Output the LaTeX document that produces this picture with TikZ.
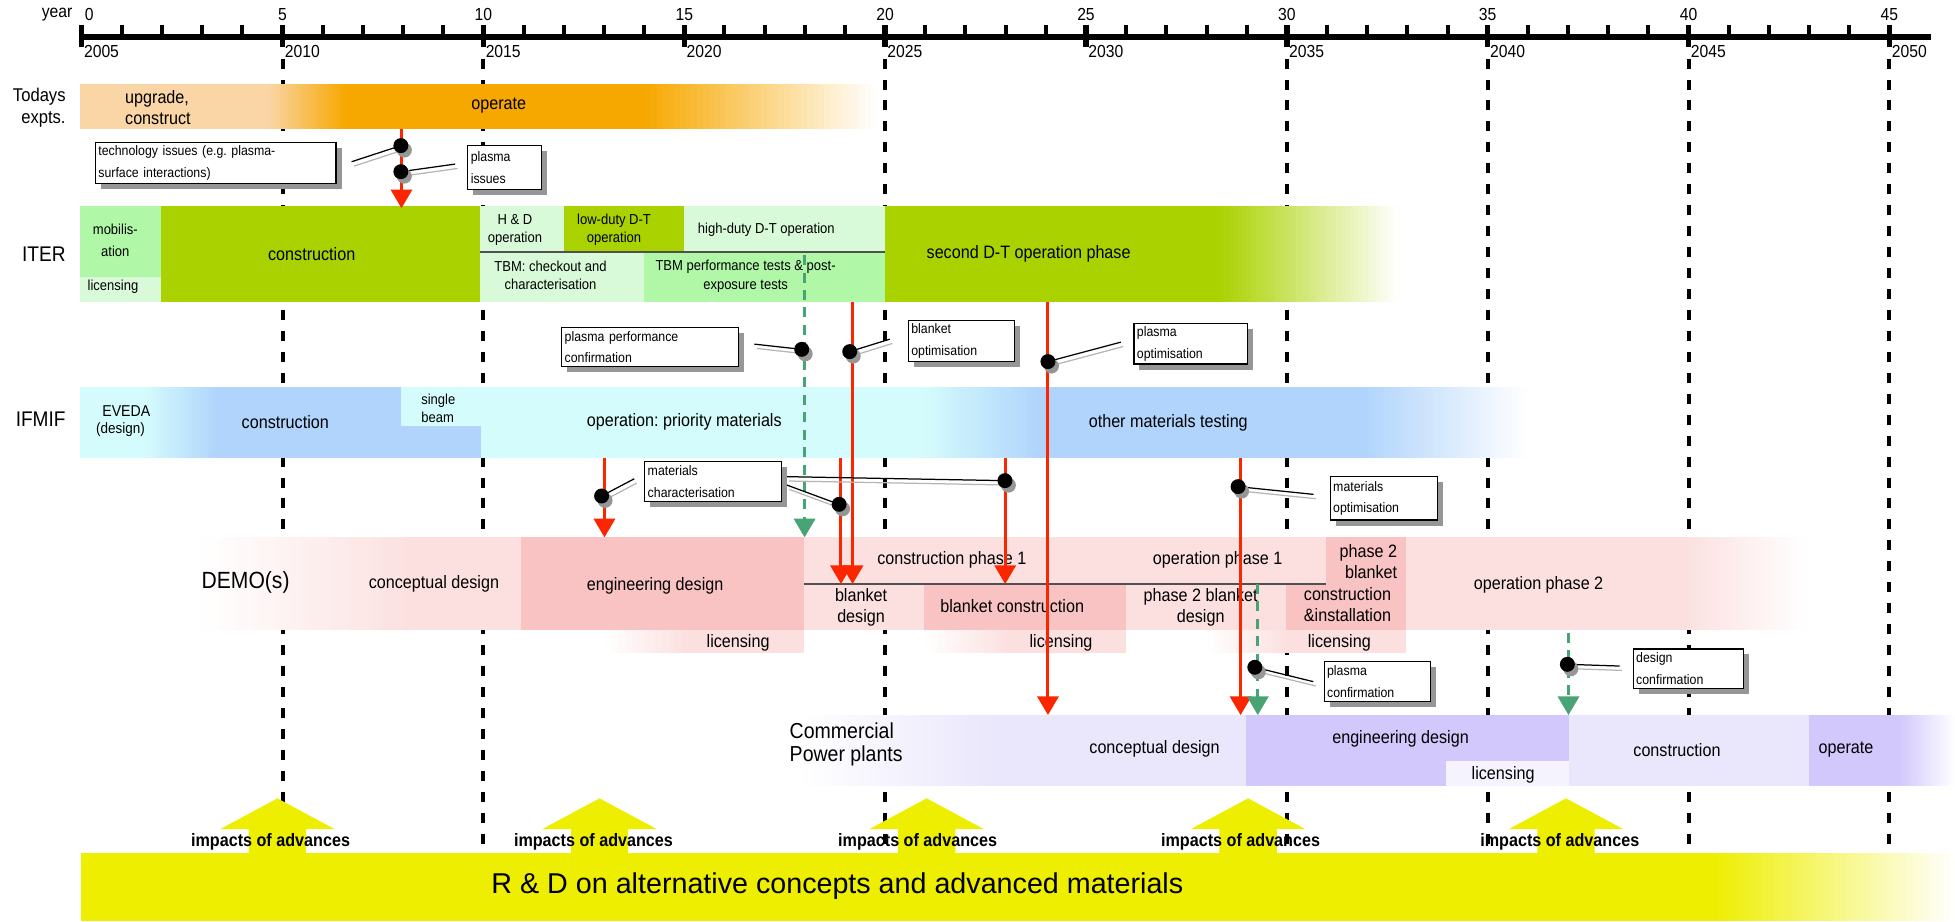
\documentclass[tikz,border=0pt]{standalone}
\usepackage{fontspec}
\setmainfont{Liberation Sans}[FakeStretch=0.9]
\newfontfamily\plainsans{Liberation Sans}
\usetikzlibrary{shapes, arrows.meta, shadows}
\frenchspacing

\definecolor{redc}{RGB}{250,38,0}
\definecolor{greenc}{RGB}{72,163,117}
\definecolor{peach}{RGB}{250,213,166}
\definecolor{orangec}{RGB}{247,168,0}
\definecolor{olive}{RGB}{170,210,0}
\definecolor{mintc}{RGB}{176,248,168}
\definecolor{palemint}{RGB}{216,250,216}
\definecolor{cyanc}{RGB}{213,252,252}
\definecolor{bluec}{RGB}{176,212,252}
\definecolor{palepink}{RGB}{252,224,224}
\definecolor{pinkc}{RGB}{250,195,195}
\definecolor{palelav}{RGB}{234,230,252}
\definecolor{lavc}{RGB}{210,200,252}
\definecolor{whitelav}{RGB}{245,243,254}
\definecolor{yellowc}{RGB}{238,238,0}
\definecolor{shadowgrey}{RGB}{150,150,150}
\definecolor{splitgrey}{RGB}{80,80,80}

\newcommand{\ftnote}{\fontsize{5.5}{8.7}\selectfont}
\newcommand{\ftiter}{\fontsize{5.8}{7.3}\selectfont}
\newcommand{\ftbar}{\fontsize{7.2}{8.5}\selectfont}
\newcommand{\ftrow}{\fontsize{8.5}{9}\selectfont}
\newcommand{\ftaxis}{\fontsize{7}{8}\selectfont}
\newcommand{\ftimp}{\fontsize{7.2}{8}\selectfont\bfseries}
\newcommand{\ftband}{\plainsans\fontsize{11.5}{12}\selectfont}

% horizontal fade: x1, x2, y1, y2, from colour, to colour
\newcommand{\hfade}[6]{%
  \foreach \k in {0,...,39}{
    \pgfmathsetmacro{\pp}{100*(\k+0.5)/40}
    \fill[#6!\pp!#5] ({#1+(#2-#1)*\k/40},#3) rectangle ({#1+(#2-#1)*(\k+1)/40+0.4},#4);
  }}

\pgfdeclarelayer{front}
\pgfsetlayers{main,front}

\tikzstyle{lbl} = [inner sep=0pt, align=center, font=\ftbar]
\tikzstyle{rowlbl} = [inner sep=0pt, anchor=east, align=right, font=\ftrow]
\tikzstyle{notebox} = [rectangle, draw=black, line width=0.5pt, fill=white, anchor=north west, align=left, inner sep=1.2pt, font=\ftnote, drop shadow={shadow xshift=2.2pt, shadow yshift=-2.2pt, fill=shadowgrey, opacity=1}]
\tikzstyle{bead} = [circle, fill=black, inner sep=0pt, minimum size=6pt, drop shadow={shadow xshift=1.4pt, shadow yshift=-1.8pt, fill=shadowgrey, opacity=1}]
\tikzstyle{leadline} = [draw=black, line width=0.5pt]
\tikzstyle{leadshade} = [draw=shadowgrey!70, line width=0.5pt]
\tikzstyle{redline} = [draw=redc, line width=1.2pt, -{Triangle[length=7.5pt, width=8.5pt]}]
\tikzstyle{greenline} = [draw=greenc, line width=1.2pt, dash pattern=on 4pt off 3pt, -{Triangle[length=7.5pt, width=8.5pt]}]
\tikzstyle{gridline} = [draw=black, line width=1.6pt, dash pattern=on 4pt off 4.4pt]
\tikzstyle{divider} = [draw=splitgrey, line width=0.8pt]

\begin{document}
\begin{tikzpicture}[x=0.5pt, y=-0.5pt]
\useasboundingbox (0,0) rectangle (1568,739);

% time axis
\node[font=\ftaxis, inner sep=0pt] (yr) at (45.8,12) {year};
\node[font=\ftaxis, inner sep=0pt] (t0) at (71.6,12) {0};
\foreach \t in {5,10,...,45}
  \node[font=\ftaxis, inner sep=0pt] (t\t) at (65.5+32.22*\t,12) {\t};
\draw[line width=2.25pt] (63,29.5) -- (1549,29.5);
\foreach \t in {0,...,45}
  \draw[line width=1.6pt] (65.5+32.22*\t,20) -- (65.5+32.22*\t,29.5);
\foreach \t in {0,5,...,45}{
  \draw[line width=2.2pt] (65.5+32.22*\t,20) -- (65.5+32.22*\t,37.5);
  \pgfmathtruncatemacro{\yy}{2005+\t}
  \node[font=\ftaxis, inner sep=0pt, anchor=west] (y\t) at (67+32.22*\t,41.5) {\yy};
}
\foreach \t in {5,10,20,30,35,40,45}
  \draw[gridline] (65.5+32.22*\t,47) -- (65.5+32.22*\t,684);

% todays experiments
\fill[peach] (64.5,67) rectangle (215,103.7);
\hfade{215}{277.5}{67}{103.7}{peach}{orangec}
\fill[orangec] (277.5,67) rectangle (517.4,103.7);
\hfade{517.4}{703}{67}{103.7}{orangec}{white}
\node[rowlbl, font=\fontsize{7.4}{8.75}\selectfont] (todays) at (53,86.3) {Todays\\expts.};
\node[lbl, anchor=west, align=left, font=\fontsize{7.2}{8.75}\selectfont] (upg) at (100,86.3) {upgrade,\\construct};
\node[lbl] (operate) at (400,85) {operate};

% ITER
\fill[mintc] (64.5,165) rectangle (129,222);
\fill[palemint] (64.5,222) rectangle (129,242);
\fill[olive] (129,165) rectangle (385,242);
\fill[palemint] (385,165) rectangle (452,202);
\fill[olive] (452,165) rectangle (548.7,202);
\fill[palemint] (548.7,165) rectangle (709.6,202);
\fill[palemint] (385,202) rectangle (516.5,242);
\fill[mintc] (516.5,202) rectangle (709.6,242);
\fill[olive] (709.6,165) rectangle (978.5,242);
\hfade{978.5}{1122}{165}{242}{olive}{white}
\draw[divider] (385,202) -- (709.6,202);
\node[rowlbl] (iter) at (53,203.7) {ITER};
\node[lbl, font=\fontsize{5.8}{8.75}\selectfont] (mobil) at (92.5,193) {mobilis-\\ation};
\node[lbl, font=\ftiter] (iterlic) at (90.6,230) {licensing};
\node[lbl] (iterconstr) at (250,203.7) {construction};
\node[lbl, font=\ftiter] (hd) at (413,184.4) {H \& D\\operation};
\node[lbl, font=\ftiter] (lowdt) at (492.5,184.4) {low-duty D-T\\operation};
\node[lbl, font=\ftiter] (highdt) at (614.6,184.5) {high-duty D-T operation};
\node[lbl, font=\ftiter] (tbmcheck) at (441.5,221) {TBM: checkout and\\characterisation};
\node[lbl, font=\ftiter] (tbmperf) at (598,221.5) {TBM performance tests \& post-\\exposure tests};
\node[lbl] (seconddt) at (825,203.7) {second D-T operation phase};

% IFMIF
\fill[cyanc] (64.5,310) rectangle (115,367);
\hfade{115}{175}{310}{367}{cyanc}{bluec}
\fill[bluec] (175,310) rectangle (386,367);
\fill[cyanc] (321.4,310) rectangle (386,342);
\fill[cyanc] (386,310) rectangle (740,367);
\hfade{740}{835}{310}{367}{cyanc}{bluec}
\fill[bluec] (835,310) rectangle (1093.7,367);
\hfade{1093.7}{1225.5}{310}{367}{bluec}{white}
\node[rowlbl] (ifmif) at (53,336) {IFMIF};
\node[lbl, font=\fontsize{6.3}{7}\selectfont] (eveda) at (101.3,329.6) {EVEDA};
\node[lbl, font=\fontsize{6}{7}\selectfont] (evedades) at (96.7,344.3) {(design)};
\node[lbl] (ifmifconstr) at (228.8,338.7) {construction};
\node[lbl, anchor=west, align=left, font=\fontsize{5.8}{7.2}\selectfont] (single) at (337.5,327.5) {single\\beam};
\node[lbl] (priority) at (548.8,338.7) {operation: priority materials};
\node[lbl] (othermat) at (937,339) {other materials testing};

% DEMO
\hfade{160}{330}{431}{505}{white}{palepink}
\fill[palepink] (330,431) rectangle (417.6,505);
\fill[pinkc] (417.6,431) rectangle (645,505);
\fill[palepink] (645,431) rectangle (1063.6,468.4);
\fill[palepink] (645,468.4) rectangle (741.3,505);
\fill[pinkc] (741.3,468.4) rectangle (903,505);
\fill[palepink] (903,468.4) rectangle (1031.5,505);
\fill[pinkc] (1063.6,431) rectangle (1127.4,468.4);
\fill[pinkc] (1031.5,468.4) rectangle (1127.4,505);
\fill[palepink] (1127.4,431) rectangle (1350.6,505);
\hfade{1350.6}{1449}{431}{505}{palepink}{white}
\hfade{485}{549}{505}{524}{white}{palepink}
\fill[palepink] (549,505) rectangle (645,524);
\hfade{741.3}{809}{505}{524}{white}{palepink}
\fill[palepink] (809,505) rectangle (903,524);
\hfade{968}{1031.5}{505}{524}{white}{palepink}
\fill[palepink] (1031.5,505) rectangle (1127.4,524);
\draw[divider] (645,468.4) -- (1063.6,468.4);
\node[lbl, font=\fontsize{9.4}{10}\selectfont] (demo) at (197,467) {DEMO(s)};
\node[lbl] (democoncept) at (348,468) {conceptual design};
\node[lbl] (demoeng) at (525.4,469.7) {engineering design};
\node[lbl] (constr1) at (763.4,449) {construction phase 1};
\node[lbl] (blkdes) at (690.6,487) {blanket\\design};
\node[lbl] (blkconstr) at (811.8,485.8) {blanket construction};
\node[lbl] (oper1) at (976.6,449) {operation phase 1};
\node[lbl] (blkdes2) at (963,487) {phase 2 blanket\\design};
\node[lbl, anchor=east, align=right] (blk2) at (1121,450.6) {phase 2\\blanket};
\node[lbl, anchor=west, align=left] (install2) at (1045.4,484.7) {construction\\\&installation};
\node[lbl] (oper2) at (1234,469.2) {operation phase 2};
\node[lbl] (demolic1) at (592,515.5) {licensing};
\node[lbl] (demolic2) at (851,515.5) {licensing};
\node[lbl] (demolic3) at (1074.2,515.5) {licensing};

% commercial power plants
\hfade{640}{800}{573.5}{630.4}{white}{palelav}
\fill[palelav] (800,573.5) rectangle (999.4,630.4);
\fill[lavc] (999.4,573.5) rectangle (1258.7,630.4);
\fill[whitelav] (1160,610.4) rectangle (1258.7,630.4);
\fill[palelav] (1258.7,573.5) rectangle (1451,630.4);
\fill[lavc] (1451,573.5) rectangle (1523.5,630.4);
\hfade{1523.5}{1568}{573.5}{630.4}{lavc}{white}
\node[lbl, anchor=west, align=left, font=\fontsize{8.7}{9}\selectfont] (commercial) at (633,597) {Commercial\\Power plants};
\node[lbl] (cpconcept) at (926,601) {conceptual design};
\node[lbl] (cpeng) at (1123.3,592.2) {engineering design};
\node[lbl] (cplic) at (1205.6,621.6) {licensing};
\node[lbl] (cpconstr) at (1345,601.5) {construction};
\node[lbl] (cpoperate) at (1480.6,601.5) {operate};

% impacts
\coordinate (ra1) at (322,103.7);   \coordinate (rb1) at (322,167);
\coordinate (ra2) at (683.8,242);   \coordinate (rb2) at (683.8,468.4);
\coordinate (ra3) at (840.5,242);   \coordinate (rb3) at (840.5,573.5);
\coordinate (ra4) at (484.8,367);   \coordinate (rb4) at (484.8,431);
\coordinate (ra5) at (674.5,367);   \coordinate (rb5) at (674.5,468.4);
\coordinate (ra6) at (806.2,367);   \coordinate (rb6) at (806.2,468.4);
\coordinate (ra7) at (995,367);     \coordinate (rb7) at (995,573.5);
\coordinate (ga1) at (645.3,204.6); \coordinate (gb1) at (645.3,431);
\coordinate (ga2) at (1008.8,468.4); \coordinate (gb2) at (1008.8,573.5);
\coordinate (ga3) at (1258,507.5);  \coordinate (gb3) at (1258,573.5);
\foreach \i in {1,...,7}
  \draw[redline] (ra\i) -- (rb\i);
\foreach \i in {1,2,3}
  \draw[greenline] (ga\i) -- (gb\i);

% issues
\begin{pgfonlayer}{front}
\node[bead] (p1) at (321.5,116.8) {};
\node[bead] (p2) at (321.5,137.7) {};
\node[bead] (p3) at (643,280.2) {};
\node[bead] (p4) at (681.5,282) {};
\node[bead] (p5) at (840.5,290) {};
\node[bead] (p6) at (482.5,397.8) {};
\node[bead] (p7) at (673,404.5) {};
\node[bead] (p8) at (806,385.5) {};
\node[bead] (p9) at (993,390.3) {};
\node[bead] (p10) at (1006.4,535.2) {};
\node[bead] (p11) at (1257.1,532.8) {};
\end{pgfonlayer}
\coordinate (l1) at (282,129.7);
\coordinate (l2) at (365,131.6);
\coordinate (l3) at (605,276);
\coordinate (l4) at (713.7,272);
\coordinate (l5) at (899,274.4);
\coordinate (l6) at (508.7,384);
\coordinate (l7) at (631,389);
\coordinate (l8) at (631,382.3);
\coordinate (l9) at (1053.5,396.5);
\coordinate (l10) at (1053.3,546.7);
\coordinate (l11) at (1299,534.2);
\foreach \i in {1,...,11}{
  \draw[leadshade] ([shift={(2,3.5)}]p\i.center) -- ([shift={(2,3.5)}]l\i);
  \draw[leadline] (p\i.center) -- (l\i);
}

\node[notebox, minimum width=96.5pt, minimum height=16.25pt, text width=94.1pt] (n1) at (76,114) {technology issues (e.g. plasma-\\surface interactions)};
\node[notebox, minimum width=29.7pt, minimum height=17.7pt, text width=27.3pt] (n2) at (374.7,116.3) {plasma\\issues};
\node[notebox, minimum width=71pt, minimum height=15.8pt, text width=68.6pt] (n3) at (450,262) {plasma performance\\confirmation};
\node[notebox, minimum width=42.5pt, minimum height=16pt, text width=40.1pt] (n4) at (728,256.7) {blanket\\optimisation};
\node[notebox, minimum width=45.5pt, minimum height=16pt, text width=43.1pt] (n5) at (909,259) {plasma\\optimisation};
\node[notebox, minimum width=54.8pt, minimum height=16pt, text width=52.4pt] (n6) at (516.6,369.8) {materials\\characterisation};
\node[notebox, minimum width=43pt, minimum height=17.4pt, text width=40.6pt] (n7) at (1066.4,381.8) {materials\\optimisation};
\node[notebox, minimum width=42.7pt, minimum height=16pt, text width=40.3pt] (n8) at (1061.5,529.9) {plasma\\confirmation};
\node[notebox, minimum width=44.3pt, minimum height=16pt, text width=41.9pt] (n9) at (1309.4,520) {design\\confirmation};

% R&D
\fill[yellowc] (65,684) rectangle (1373.8,739);
\hfade{1373.8}{1568}{684}{739}{yellowc}{white}
\foreach \c in {222.5,480.8,743.2,1001,1256}
  \fill[yellowc] (\c-46,665) -- (\c,640.3) -- (\c+46,665) -- (\c+23,665) -- (\c+23,684.5) -- (\c-23,684.5) -- (\c-23,665) -- cycle;
\foreach \c/\n in {217/1,476/2,736/3,995/4,1251/5}
  \node[font=\ftimp, inner sep=0pt] (imp\n) at (\c,675.3) {impacts of advances};
\node[anchor=west, font=\ftband, inner sep=0pt] (rnd) at (393.8,710.6) {R \& D on alternative concepts and advanced materials};

\end{tikzpicture}
\end{document}
